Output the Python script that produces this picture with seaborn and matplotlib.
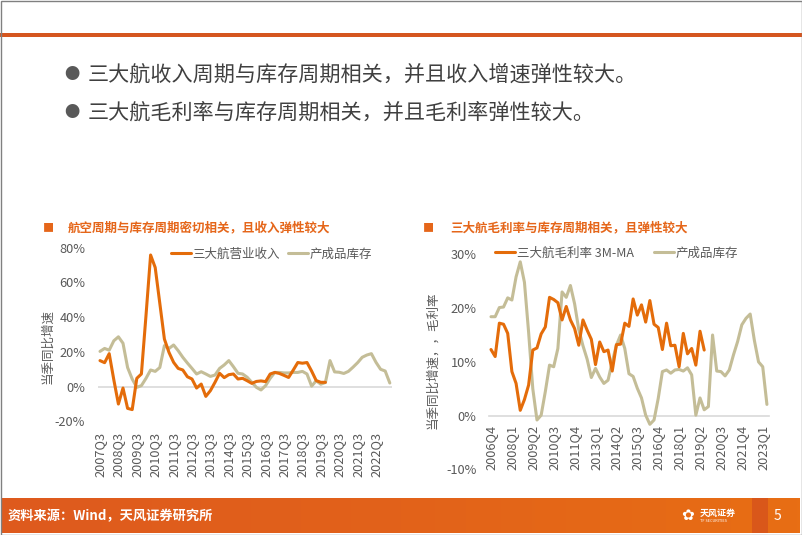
import numpy as np
import pandas as pd
import matplotlib
matplotlib.use("Agg")
import matplotlib.pyplot as plt
import seaborn as sns
from matplotlib.patches import Rectangle
from matplotlib.colors import LinearSegmentedColormap

# ---------------- data ----------------
bullets = ["三大航收入周期与库存周期相关，并且收入增速弹性较大。",
           "三大航毛利率与库存周期相关，并且毛利率弹性较大。"]
left_title = "航空周期与库存周期密切相关，且收入弹性较大"
right_title = "三大航毛利率与库存周期相关，且弹性较大"
source_text = "资料来源：Wind，天风证券研究所"

left_ticklabels = ["2007Q3", "2008Q3", "2009Q3", "2010Q3", "2011Q3", "2012Q3",
                   "2013Q3", "2014Q3", "2015Q3", "2016Q3", "2017Q3", "2018Q3",
                   "2019Q3", "2020Q3", "2021Q3", "2022Q3"]
# 三大航营业收入 当季同比 (%), 2007Q3 - 2019Q4
left_revenue = [15, 13.8, 19, 4, -10, -0.8, -12.5, -13.2, 4.8, 7.3,
                41, 75.8, 68.6, 48, 27.4, 19.7, 14, 10.5, 9.6, 5.7,
                4.4, -0.8, 1.5, -5.6, -2.3, 2.5, 7.7, 5.2, 6.9, 7.3,
                4.4, 4.8, 3.4, 1.9, 3, 3.3, 2.9, 7.3, 8.2, 7.6,
                6.5, 5.3, 9.5, 13.9, 13.5, 13.9, 9, 3.5, 2.5, 2.5]
# 产成品库存 同比 (%), 2007Q3 - 2023Q2
left_inventory = [20.3, 22, 21, 26.4, 28.7, 25, 11, 4.4, -0.4, 0.6,
                  4.8, 9.6, 8.8, 11, 23.6, 22, 24, 20.7, 16.9, 13.6,
                  10.5, 7.3, 8.6, 7.3, 5.9, 6.7, 10.5, 12.5, 15, 11.5,
                  7.7, 7.3, 5.4, 2.5, -0.4, -1.9, 0.6, 4.8, 8.2, 8.2,
                  7.9, 7.9, 8.2, 8.2, 8.8, 7.3, 0.3, 3.4, 1.4, 2.4,
                  15, 8.5, 8.3, 7.6, 8.8, 11.2, 13.8, 16.9, 18.2, 19,
                  14, 10, 9, 2.1]

right_ticklabels = ["2006Q4", "2008Q1", "2009Q2", "2010Q3", "2011Q4", "2013Q1",
                    "2014Q2", "2015Q3", "2016Q4", "2018Q1", "2019Q2", "2020Q3",
                    "2021Q4", "2023Q1"]
# 三大航毛利率 3M-MA (%), 2006Q4 - 2019Q3
right_margin = [12.3, 11, 17.2, 17, 15.3, 8.2, 6, 1, 3, 5.7,
                12.2, 12.6, 15.2, 16.5, 22, 21.6, 21, 17.8, 20.3, 17.8,
                16.2, 13.1, 17.8, 15.9, 14.2, 9.5, 13.7, 11.9, 12.2, 8.3,
                13.2, 13.3, 17.2, 16.6, 21.7, 18.7, 20.6, 17.4, 21.4, 17,
                16.4, 12.3, 17.2, 13, 13.1, 9.1, 15.3, 11.5, 12.5, 9.4,
                15.7, 12.2]
# 产成品库存 同比 (%), 2006Q4 - 2023Q2
right_inventory = [18.4, 18.4, 20.1, 20.2, 21.9, 21.5, 25.8, 28.6, 24.8, 15.5,
                   5, -0.8, 0.1, 4.5, 9.4, 9.1, 12.5, 23, 22, 24.2,
                   20.8, 16, 13, 10.5, 7.1, 8.8, 7.2, 6, 6.6, 10,
                   13.1, 15, 12.5, 7.8, 7.3, 5.1, 3.3, 0.1, -1.6, -0.8,
                   3.2, 8.2, 8.5, 7.9, 8.5, 8.6, 8.3, 8.9, 7.6, 0.1,
                   3.3, 1.1, 1.7, 15, 8.3, 8.2, 7.4, 8.5, 11.3, 13.8,
                   16.9, 18.1, 18.9, 14, 10, 9.1, 2.1]

left_yticks = [-20, 0, 20, 40, 60, 80]
right_yticks = [-10, 0, 10, 20, 30]

# ---------------- style ----------------
sns.set_theme(style="white")
plt.rcParams["font.family"] = ["Noto Sans CJK SC", "DejaVu Sans"]
plt.rcParams["axes.unicode_minus"] = False

ORANGE = "#E46C0A"
TAN = "#C4BD97"
ZERO = "#D9D9D9"
GRAY = "#595959"
TITLE_OR = "#E5661A"

W, H = 802, 535
fig = plt.figure(figsize=(W / 100, H / 100), dpi=100)
fig.patch.set_facecolor("white")

# background / decoration axes in pixel coordinates
bg = fig.add_axes([0, 0, 1, 1], zorder=0)
bg.axis("off")
band_cmap = LinearSegmentedColormap.from_list("band", ["#DE5A1E", "#E2621A", "#E86E14"])
grad = np.linspace(0, 1, 256).reshape(1, -1)
bg.imshow(grad, extent=(2, 800, 533, 498), aspect="auto", cmap=band_cmap, zorder=1)
bg.add_patch(Rectangle((752, 498), 16, 35, color="#D9571A", zorder=2, lw=0))
bg.add_patch(Rectangle((0, 33), W, 4, color="#D5561F", zorder=2, lw=0))
bg.add_patch(Rectangle((0.5, 0.5), W - 1, H - 1, fill=False, edgecolor="#808080", lw=1, zorder=3))
bg.set_xlim(0, W)
bg.set_ylim(H, 0)

# bullets
for yy, txt in zip([75, 113], bullets):
    bg.text(72, yy, "●", fontsize=11, color="#595959", ha="center", va="center")
    bg.text(88, yy, txt, fontsize=15.2, color="#404040", ha="left", va="center")

# chart titles
bg.text(48, 228, "■", fontsize=8, color=TITLE_OR, ha="center", va="center")
bg.text(68, 228, left_title, fontsize=9, color=TITLE_OR, fontweight="bold", ha="left", va="center")
bg.text(428, 228, "■", fontsize=8, color=TITLE_OR, ha="center", va="center")
bg.text(450, 228, right_title, fontsize=9, color=TITLE_OR, fontweight="bold", ha="left", va="center")

# y-axis titles
bg.text(48, 346, "当季同比增速", rotation=90, fontsize=9, color=GRAY, ha="center", va="center")
bg.text(433, 360, "当季同比增速，，毛利率", rotation=90, fontsize=9, color=GRAY, ha="center", va="center")

# footer
bg.text(8, 516, source_text, fontsize=9.5, color="white", fontweight="bold", ha="left", va="center", zorder=4)
bg.text(700, 513, "天风证券", fontsize=6.5, color="white", fontweight="bold", ha="left", va="center", zorder=4)
bg.text(700, 521, "TF SECURITIES", fontsize=2.8, color="white", ha="left", va="center", zorder=4)
bg.text(688, 516, "✿", fontsize=11, color="white", ha="center", va="center", zorder=4,
        family=["DejaVu Sans"])
bg.text(777, 516, "5", fontsize=10, color="white", ha="center", va="center", zorder=4)

# ---------------- left chart ----------------
axL = fig.add_axes([97.7 / W, 1 - 421.4 / H, 294.4 / W, 173.7 / H], zorder=2)
axL.set_facecolor("none")
dfL1 = pd.DataFrame({"x": np.arange(len(left_revenue)), "y": left_revenue})
dfL2 = pd.DataFrame({"x": np.arange(len(left_inventory)), "y": left_inventory})
axL.axhline(0, color=ZERO, lw=1.2, zorder=1)
sns.lineplot(data=dfL1, x="x", y="y", ax=axL, color=ORANGE, linewidth=2.2, label="三大航营业收入", zorder=3)
sns.lineplot(data=dfL2, x="x", y="y", ax=axL, color=TAN, linewidth=2.2, label="产成品库存", zorder=2)
axL.set_xlim(-0.5, len(left_inventory) - 0.5)
axL.set_ylim(-20, 80)
axL.set_xticks(np.arange(0, 4 * len(left_ticklabels), 4))
axL.set_xticklabels(left_ticklabels, rotation=90, va="top", ha="center")
axL.set_yticks(left_yticks)
axL.set_yticklabels([f"{v}%" for v in left_yticks])
axL.tick_params(axis="x", length=0, pad=7.5, labelsize=9.2, labelcolor=GRAY)
axL.tick_params(axis="y", length=0, pad=9, labelsize=9.2, labelcolor=GRAY)
axL.set_xlabel("")
axL.set_ylabel("")
for s in axL.spines.values():
    s.set_visible(False)
axL.legend(loc="center left", bbox_to_anchor=(170.7 / W, 1 - 254 / H), bbox_transform=fig.transFigure,
           ncol=2, frameon=False, fontsize=9, labelcolor=GRAY, handlelength=1.6,
           handletextpad=0.15, columnspacing=0.6, borderpad=0, borderaxespad=0)

# ---------------- right chart ----------------
axR = fig.add_axes([488.9 / W, 1 - 469.5 / H, 280.1 / W, 215.2 / H], zorder=2)
axR.set_facecolor("none")
for k, s in axR.spines.items():
    s.set_visible(False)
axR.spines["bottom"].set_visible(True)
axR.spines["bottom"].set_position(("data", 0))
axR.spines["bottom"].set_color(ZERO)
axR.spines["bottom"].set_linewidth(1.2)
axR.spines["bottom"].set_zorder(1)
dfR1 = pd.DataFrame({"x": np.arange(len(right_margin)), "y": right_margin})
dfR2 = pd.DataFrame({"x": np.arange(len(right_inventory)), "y": right_inventory})
sns.lineplot(data=dfR1, x="x", y="y", ax=axR, color=ORANGE, linewidth=2.2, label="三大航毛利率 3M-MA", zorder=3)
sns.lineplot(data=dfR2, x="x", y="y", ax=axR, color=TAN, linewidth=2.2, label="产成品库存", zorder=2)
axR.set_xlim(-0.5, len(right_inventory) - 0.5)
axR.set_ylim(-10, 30)
axR.set_xticks(np.arange(0, 5 * len(right_ticklabels), 5))
axR.set_xticklabels(right_ticklabels, rotation=90, va="top", ha="center")
axR.set_yticks(right_yticks)
axR.set_yticklabels([f"{v}%" for v in right_yticks])
axR.tick_params(axis="x", length=0, pad=6.5, labelsize=9.2, labelcolor=GRAY)
axR.tick_params(axis="y", length=0, pad=9, labelsize=9.2, labelcolor=GRAY)
axR.set_xlabel("")
axR.set_ylabel("")
axR.legend(loc="center left", bbox_to_anchor=(495 / W, 1 - 253.3 / H), bbox_transform=fig.transFigure,
           ncol=2, frameon=False, fontsize=9, labelcolor=GRAY, handlelength=1.6,
           handletextpad=0.15, columnspacing=1.6, borderpad=0, borderaxespad=0)

fig.savefig("out.png", dpi=100)
